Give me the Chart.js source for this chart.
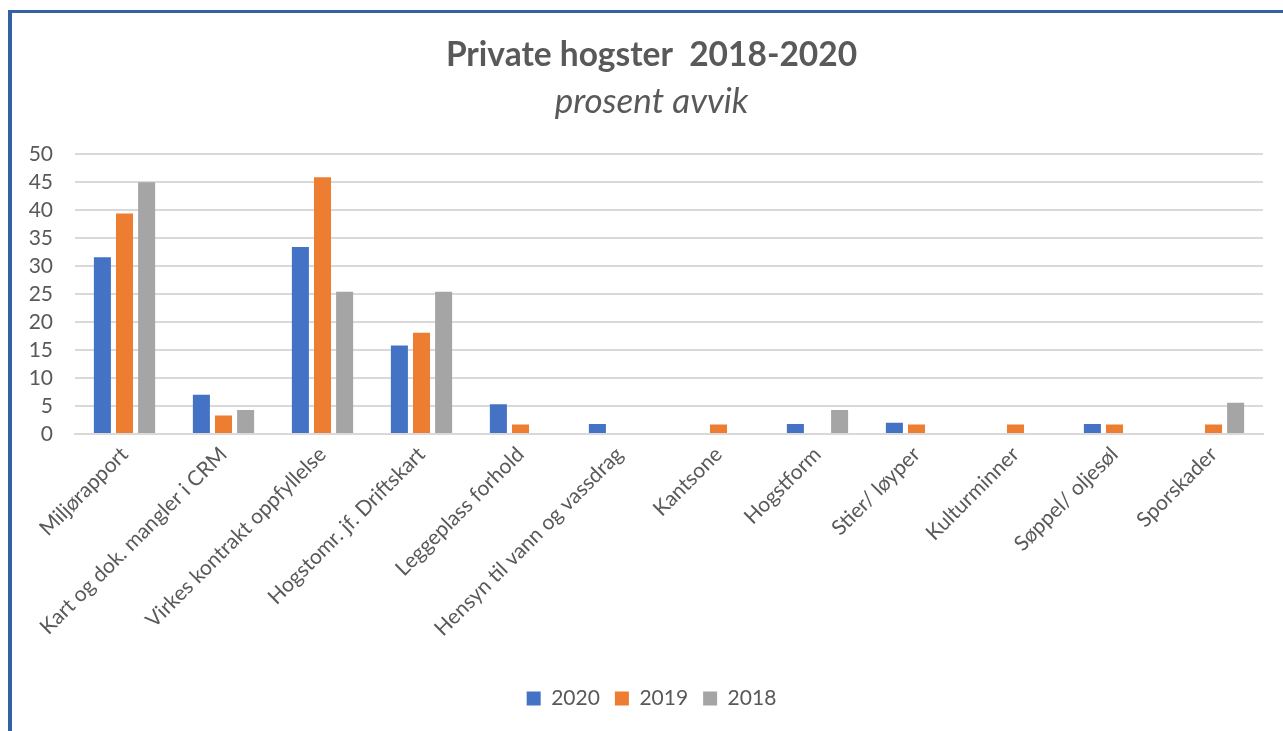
<!DOCTYPE html>
<html lang="no">
<head>
    <meta charset="utf-8">
    <script src="https://cdn.jsdelivr.net/npm/chart.js/dist/chart.umd.min.js"></script>
    <style>
        html, body { margin: 0; padding: 0; background: #fff; }
        #frame {
            position: absolute; left: 8px; top: 10px; width: 1275px; height: 721px;
            border-top: 3px solid #3560A8; border-left: 4px solid #3560A8;
            box-sizing: border-box;
        }
        #wrap { position: absolute; left: 0; top: 0; width: 1283px; height: 731px; }
    </style>
</head>
<body>
<div id="frame"></div>
<div id="wrap"><canvas id="chart"></canvas></div>

<script>
    const categories = [
        'Miljørapport', 'Kart og dok. mangler i CRM', 'Virkes kontrakt oppfyllelse',
        'Hogstomr. jf. Driftskart', 'Leggeplass forhold', 'Hensyn til vann og vassdrag',
        'Kantsone', 'Hogstform', 'Stier/ løyper', 'Kulturminner', 'Søppel/ oljesøl', 'Sporskader'
    ];
    const values2020 = [31.6, 7.0, 33.4, 15.8, 5.3, 1.8, 0, 1.8, 2.0, 0, 1.8, 0];
    const values2019 = [39.4, 3.3, 45.9, 18.1, 1.7, 0, 1.7, 0, 1.7, 1.7, 1.7, 1.7];
    const values2018 = [45.0, 4.3, 25.4, 25.4, 0, 0, 0, 4.3, 0, 0, 0, 5.6];
    const yTicks = [0, 5, 10, 15, 20, 25, 30, 35, 40, 45, 50];

    const textColor = '#595959';
    const fontFamily = 'Lato, "Open Sans", sans-serif';

    const config = {
        type: 'bar',
        data: {
            labels: categories,
            datasets: [
                {label: '2020', data: values2020, backgroundColor: '#4472C4'},
                {label: '2019', data: values2019, backgroundColor: '#ED7D31'},
                {label: '2018', data: values2018, backgroundColor: '#A5A5A5'}
            ]
        },
        options: {
            responsive: false,
            animation: false,
            devicePixelRatio: 1,
            categoryPercentage: 0.67,
            barPercentage: 0.77,
            layout: {padding: {left: 20, right: 0, top: 35, bottom: 12}},
            scales: {
                x: {
                    grid: {display: false},
                    border: {color: '#D9D9D9', width: 2},
                    afterFit: function(axis) { axis.height = 239; },
                    ticks: {
                        color: textColor,
                        font: {family: fontFamily, size: 21},
                        minRotation: 45, maxRotation: 45,
                        autoSkip: false,
                        padding: 0
                    }
                },
                y: {
                    min: 0, max: 50,
                    afterBuildTicks: function(axis) {
                        axis.ticks = yTicks.map(function(v) { return {value: v}; });
                    },
                    afterFit: function(axis) { axis.width = 55; },
                    grid: {color: '#D9D9D9', lineWidth: 2, drawTicks: false},
                    border: {display: false},
                    ticks: {
                        color: textColor,
                        font: {family: fontFamily, size: 21},
                        autoSkip: false,
                        padding: 22
                    }
                },
                // empty right margin so the title and legend centre where the reference has them
                spacer: {
                    position: 'right',
                    afterFit: function(axis) { axis.width = 20; },
                    grid: {display: false},
                    border: {display: false},
                    ticks: {display: false}
                }
            },
            plugins: {
                title: {
                    display: true,
                    text: 'Private hogster  2018-2020',
                    color: textColor,
                    font: {family: fontFamily, size: 33.5, weight: 'bold'},
                    padding: {top: 0, bottom: 6}
                },
                subtitle: {
                    display: true,
                    text: 'prosent avvik',
                    color: textColor,
                    font: {family: fontFamily, size: 35, style: 'italic', weight: 'normal'},
                    padding: {top: 0, bottom: 31}
                },
                legend: {
                    position: 'bottom',
                    labels: {
                        color: textColor,
                        font: {family: fontFamily, size: 21},
                        boxWidth: 14, boxHeight: 14,
                        padding: 15
                    }
                },
                tooltip: {enabled: false}
            }
        }
    };

    const canvas = document.getElementById('chart');
    canvas.width = 1283;
    canvas.height = 731;
    const chart = new Chart(canvas, config);
</script>
</body>
</html>
